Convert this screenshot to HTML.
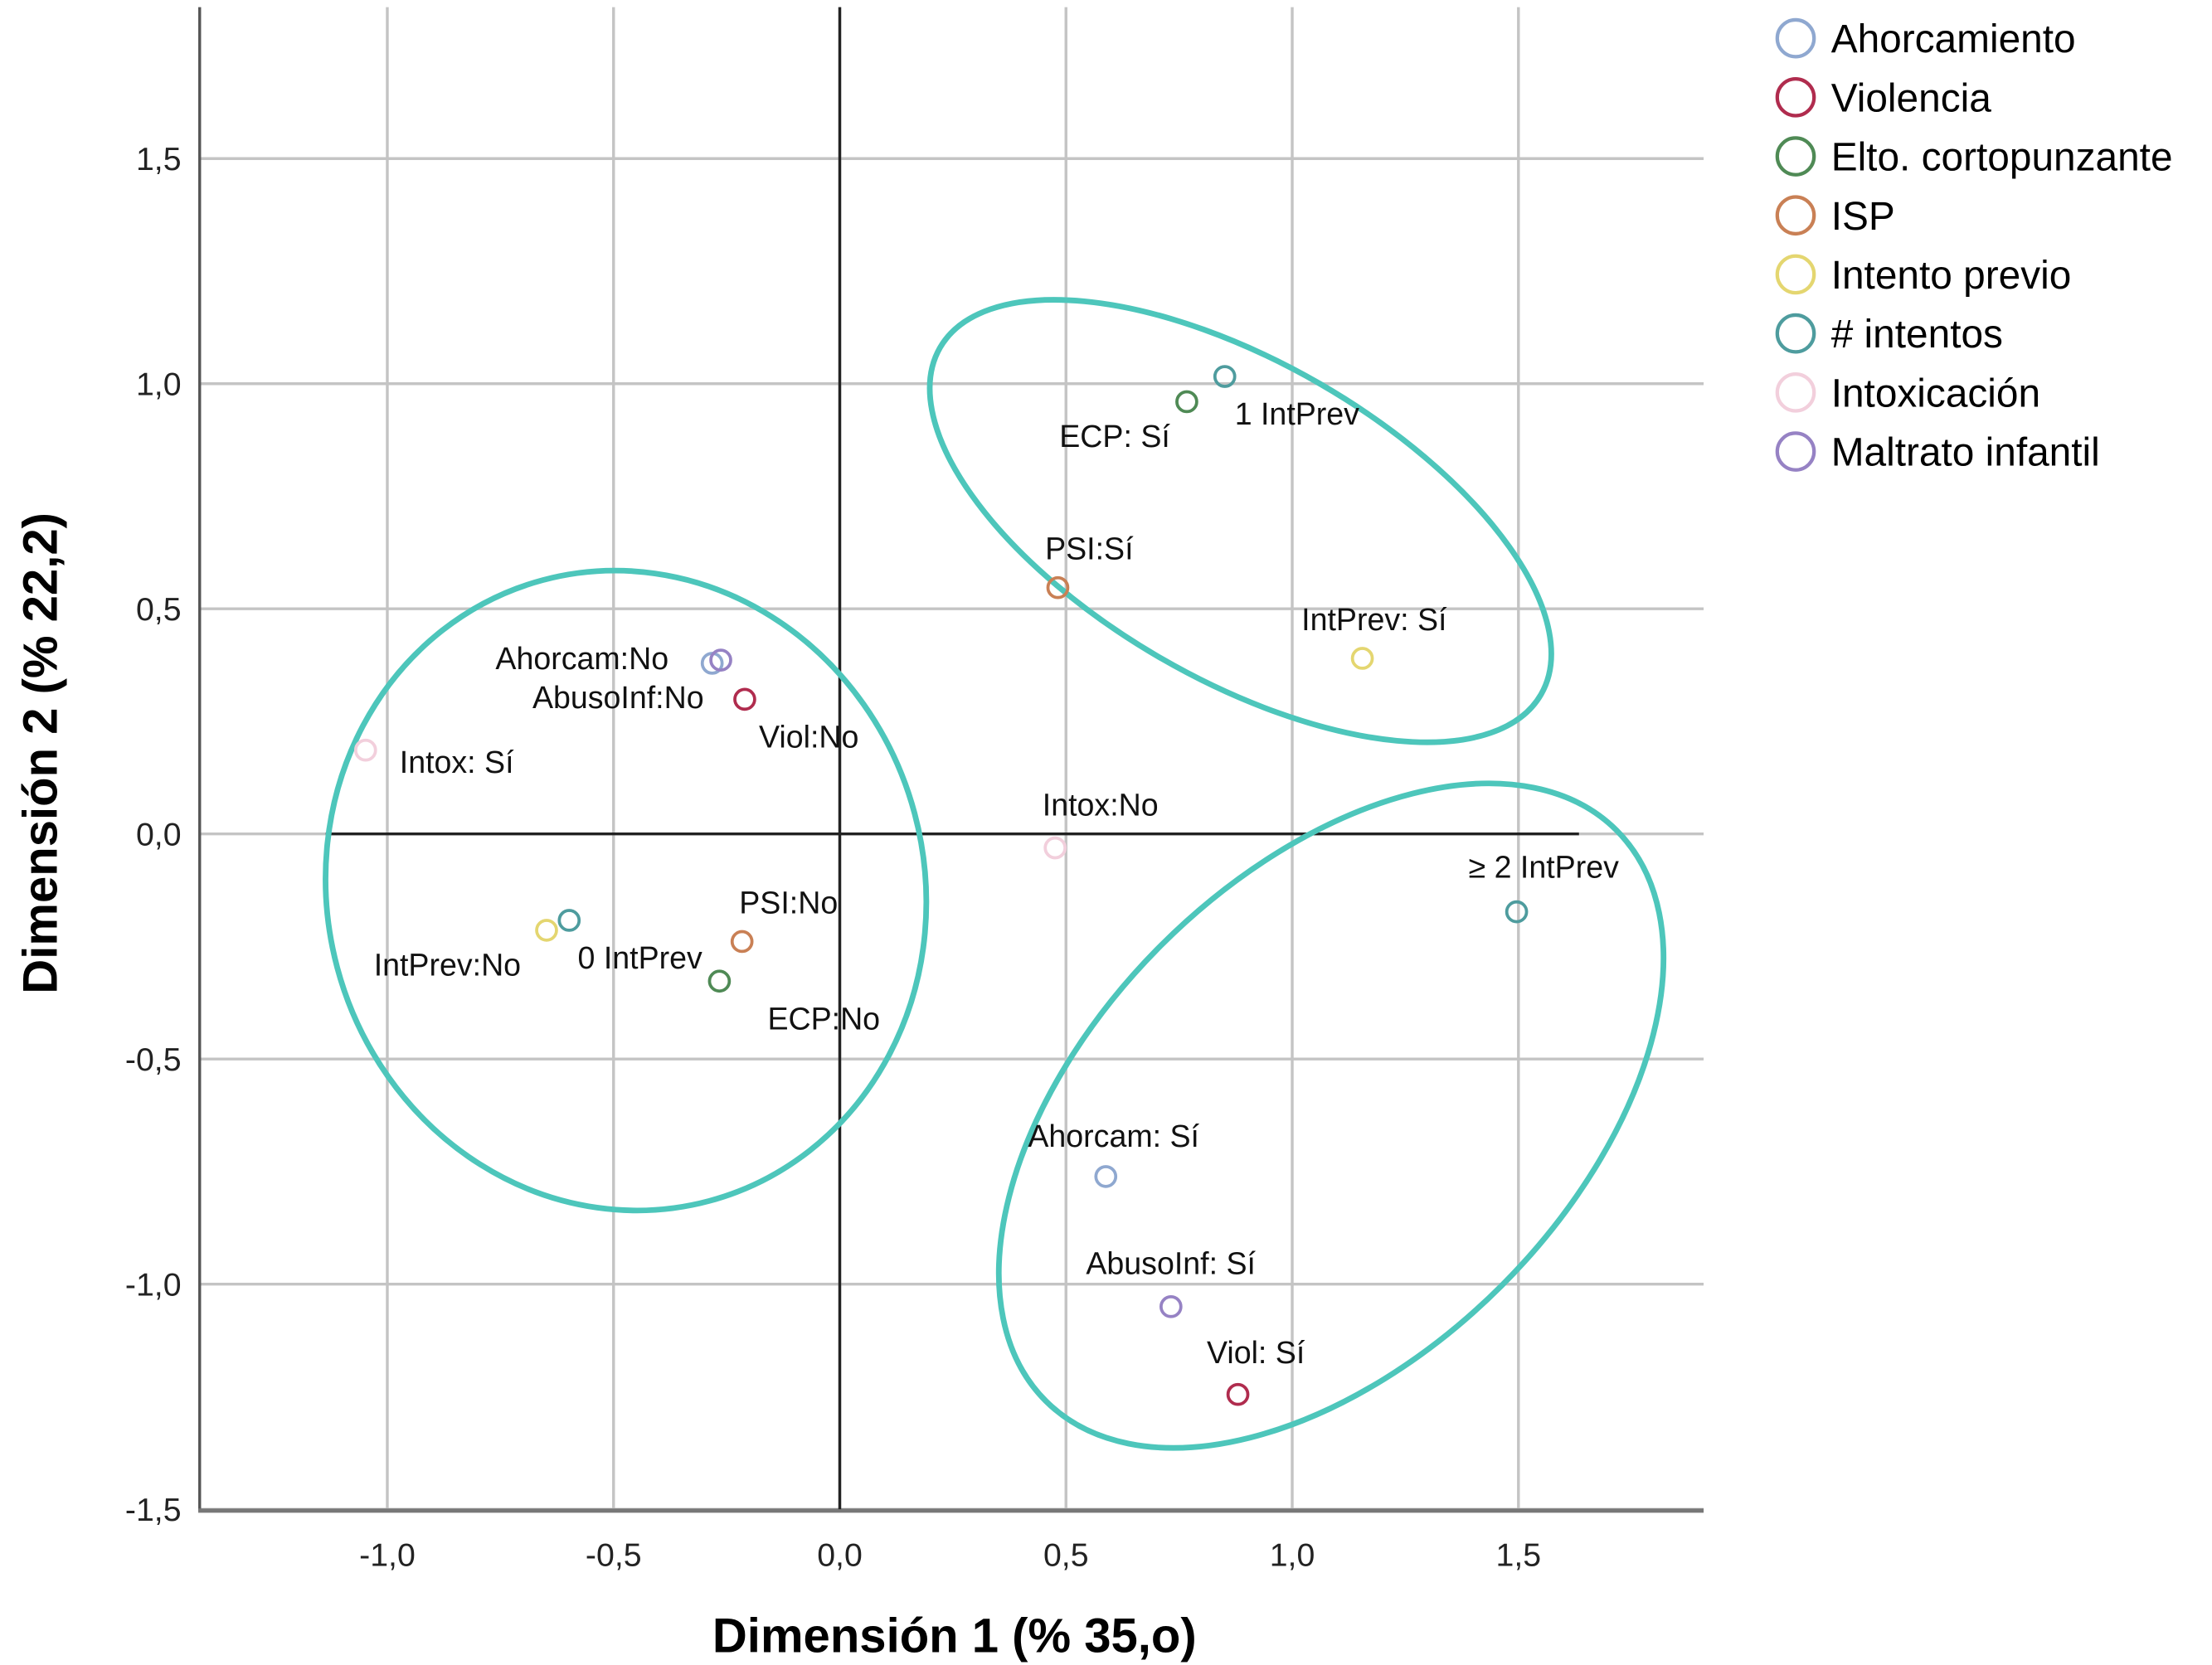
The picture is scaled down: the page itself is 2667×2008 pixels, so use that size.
<!DOCTYPE html>
<html><head><meta charset="utf-8"><style>
html,body{margin:0;padding:0;background:#fff;}
svg{display:block;font-family:"Liberation Sans",Arial,sans-serif;}
</style></head><body>
<svg id="chart" width="2667" height="2008" viewBox="0 0 1562 1176" xmlns="http://www.w3.org/2000/svg">
<g id="grid"></g>
<g id="axes"></g>
<g id="ellipses"></g>
<g id="points"></g>
<g id="legend"></g>
<text x="674" y="1167" text-anchor="middle" font-size="34" font-weight="bold">Dimensión 1 (% 35,o)</text>
<text transform="translate(40,532) rotate(-90)" text-anchor="middle" font-size="34" font-weight="bold">Dimensión 2 (% 22,2)</text>
</svg>
<script>
const xTicks = [-1.0, -0.5, 0.0, 0.5, 1.0, 1.5];
const yTicks = [-1.5, -1.0, -0.5, 0.0, 0.5, 1.0, 1.5];
const pointLabels = ["Ahorcam:No","AbusoInf:No","Viol:No","Intox: Sí","IntPrev:No","0 IntPrev","PSI:No","ECP:No","Intox:No","ECP: Sí","1 IntPrev","PSI:Sí","IntPrev: Sí","≥ 2 IntPrev","Ahorcam: Sí","AbusoInf: Sí","Viol: Sí"];
const pointX = [-0.282,-0.263,-0.210,-1.048,-0.648,-0.598,-0.216,-0.266,0.476,0.767,0.851,0.482,1.155,1.496,0.588,0.732,0.880];
const pointY = [0.379,0.386,0.299,0.186,-0.214,-0.192,-0.239,-0.327,-0.031,0.960,1.016,0.547,0.390,-0.173,-0.761,-1.050,-1.245];
const pointGroup = [0,7,1,6,4,5,3,2,6,2,5,3,4,5,0,7,1];
const groupNames = ["Ahorcamiento","Violencia","Elto. cortopunzante","ISP","Intento previo","# intentos","Intoxicación","Maltrato infantil"];
const groupColors = ["#8fa8d0","#b02c4e","#4f8a55","#c98055","#e4d670","#4e9c9e","#f2cfdc","#9682c4"];

const X = v => 593 + v*319.5;
const Y = v => 589 - v*318;
const NS = "http://www.w3.org/2000/svg";
function mk(tag, attrs, parent){const e=document.createElementNS(NS,tag);for(const k in attrs)e.setAttribute(k,attrs[k]);parent.appendChild(e);return e;}
const grid=document.getElementById('grid'), axes=document.getElementById('axes');
xTicks.forEach(t=>{
  const l=mk('line',{x1:X(t),x2:X(t),y1:5,y2:1066,stroke:'#c4c4c4','stroke-width':2},grid);
  
  
  const tx=mk('text',{x:X(t),y:1106,'text-anchor':'middle','font-size':23,fill:'#222'},axes);
  tx.textContent=t.toFixed(1).replace('.',',');
  
  
});
yTicks.forEach(t=>{
  const l=mk('line',{x1:141,x2:1203,y1:Y(t),y2:Y(t),stroke:'#c4c4c4','stroke-width':2},grid);
  
  
  const tx=mk('text',{x:128,y:Y(t)+8,'text-anchor':'end','font-size':23,fill:'#222'},axes);
  tx.textContent=t.toFixed(1).replace('.',',');
  
  
});
let a=mk('line',{x1:141,x2:141,y1:5,y2:1067,stroke:'#555','stroke-width':2},axes);

a=mk('line',{x1:140,x2:1203,y1:1067,y2:1067,stroke:'#777','stroke-width':3},axes);

a=mk('line',{x1:X(0),x2:X(0),y1:5,y2:1066,stroke:'#222','stroke-width':2},axes);

a=mk('line',{x1:230,x2:1115,y1:Y(0),y2:Y(0),stroke:'#222','stroke-width':2},axes);


const ell=document.getElementById('ellipses');
[[442,629,211,227,-15],[876,368,245,112,30],[940,788,285,170,-45]].forEach((e,i)=>{
  const el=mk('ellipse',{cx:e[0],cy:e[1],rx:e[2],ry:e[3],transform:`rotate(${e[4]} ${e[0]} ${e[1]})`,fill:'none',stroke:'#4dc6bb','stroke-width':4},ell);
  
  
});

const labelOff=[[-153,4],[-133,34],[10,34],[24,16],[-122,32],[6,34],[-2,-20],[34,34],[-9,-23],[-90,32],[7,34],[-9,-20],[-43,-20],[-34,-24],[-55,-21],[-60,-23],[-22,-22]];
const pts=document.getElementById('points');
pointX.forEach((v,i)=>{
  const c=mk('circle',{cx:X(v),cy:Y(pointY[i]),r:7,fill:'none',stroke:groupColors[pointGroup[i]],'stroke-width':2.2},pts);
  
  
  const t=mk('text',{x:X(v)+labelOff[i][0],y:Y(pointY[i])+labelOff[i][1],'font-size':22,fill:'#111'},pts);
  t.textContent=pointLabels[i];
  
  
});

const lg=document.getElementById('legend');
groupNames.forEach((n,i)=>{
  const y=27+i*41.7;
  const c=mk('circle',{cx:1268,cy:y,r:13,fill:'none',stroke:groupColors[i],'stroke-width':2.5},lg);
  
  
  const t=mk('text',{x:1293,y:y+10,'font-size':28,fill:'#000'},lg);
  t.textContent=n;
  
  
});
</script>
</body></html>
